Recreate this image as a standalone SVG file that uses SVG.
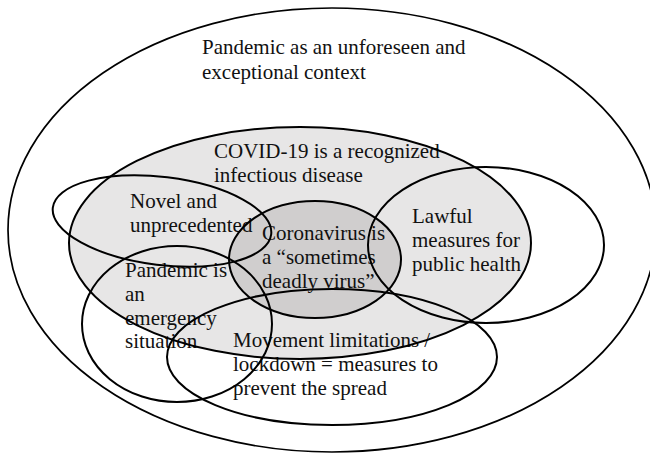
<svg xmlns="http://www.w3.org/2000/svg" xmlns:xlink="http://www.w3.org/1999/xlink" width="650" height="453" viewBox="0 0 650 453">
<style>
  text { font-family: "Liberation Serif", "Times New Roman", serif; font-size: 21px; fill: #111; }
  .outline { fill: none; stroke: #000; stroke-width: 2; }
  .outer { stroke-width: 1.7; }
  .light { fill: #e7e6e6; stroke: none; }
  .dark { fill: #d0cece; stroke: none; }
</style>
<defs>
  <ellipse id="e-context" cx="332" cy="230" rx="324" ry="222"/>
  <ellipse id="e-covid" cx="300" cy="243" rx="231" ry="116"/>
  <ellipse id="e-novel" cx="162" cy="221" rx="110" ry="44" transform="rotate(7 162 221)"/>
  <ellipse id="e-corona" cx="315" cy="259.5" rx="86" ry="58.5"/>
  <ellipse id="e-lawful" cx="486" cy="245" rx="118" ry="78"/>
  <ellipse id="e-emergency" cx="177" cy="324" rx="95" ry="78"/>
  <ellipse id="e-movement" cx="332" cy="357" rx="165" ry="68"/>
</defs>

<g id="context">
  <text x="202" y="54">Pandemic as an unforeseen and</text>
  <text x="202" y="79">exceptional context</text>
</g>

<g id="covid">
  <use xlink:href="#e-covid" class="light"/>
  <text x="214" y="158">COVID-19 is a recognized</text>
  <text x="214" y="182">infectious disease</text>
</g>

<g id="coronavirus">
  <use xlink:href="#e-corona" class="dark"/>
  <text x="262" y="240">Coronavirus is</text>
  <text x="262" y="264">a “sometimes</text>
  <text x="262" y="288">deadly virus”</text>
</g>

<g id="novel">
  <text x="130" y="208">Novel and</text>
  <text x="130" y="232">unprecedented</text>
</g>

<g id="lawful">
  <text x="412" y="223">Lawful</text>
  <text x="412" y="247">measures for</text>
  <text x="412" y="271">public health</text>
</g>

<g id="emergency">
  <text x="125" y="277">Pandemic is</text>
  <text x="125" y="301">an</text>
  <text x="125" y="325">emergency</text>
  <text x="125" y="348">situation</text>
</g>

<g id="movement">
  <text x="233" y="347">Movement limitations /</text>
  <text x="233" y="371">lockdown = measures to</text>
  <text x="233" y="395">prevent the spread</text>
</g>

<g id="outlines">
  <use xlink:href="#e-context" class="outline outer"/>
  <use xlink:href="#e-covid" class="outline"/>
  <use xlink:href="#e-corona" class="outline"/>
  <use xlink:href="#e-novel" class="outline"/>
  <use xlink:href="#e-lawful" class="outline"/>
  <use xlink:href="#e-emergency" class="outline"/>
  <use xlink:href="#e-movement" class="outline"/>
</g>
</svg>
